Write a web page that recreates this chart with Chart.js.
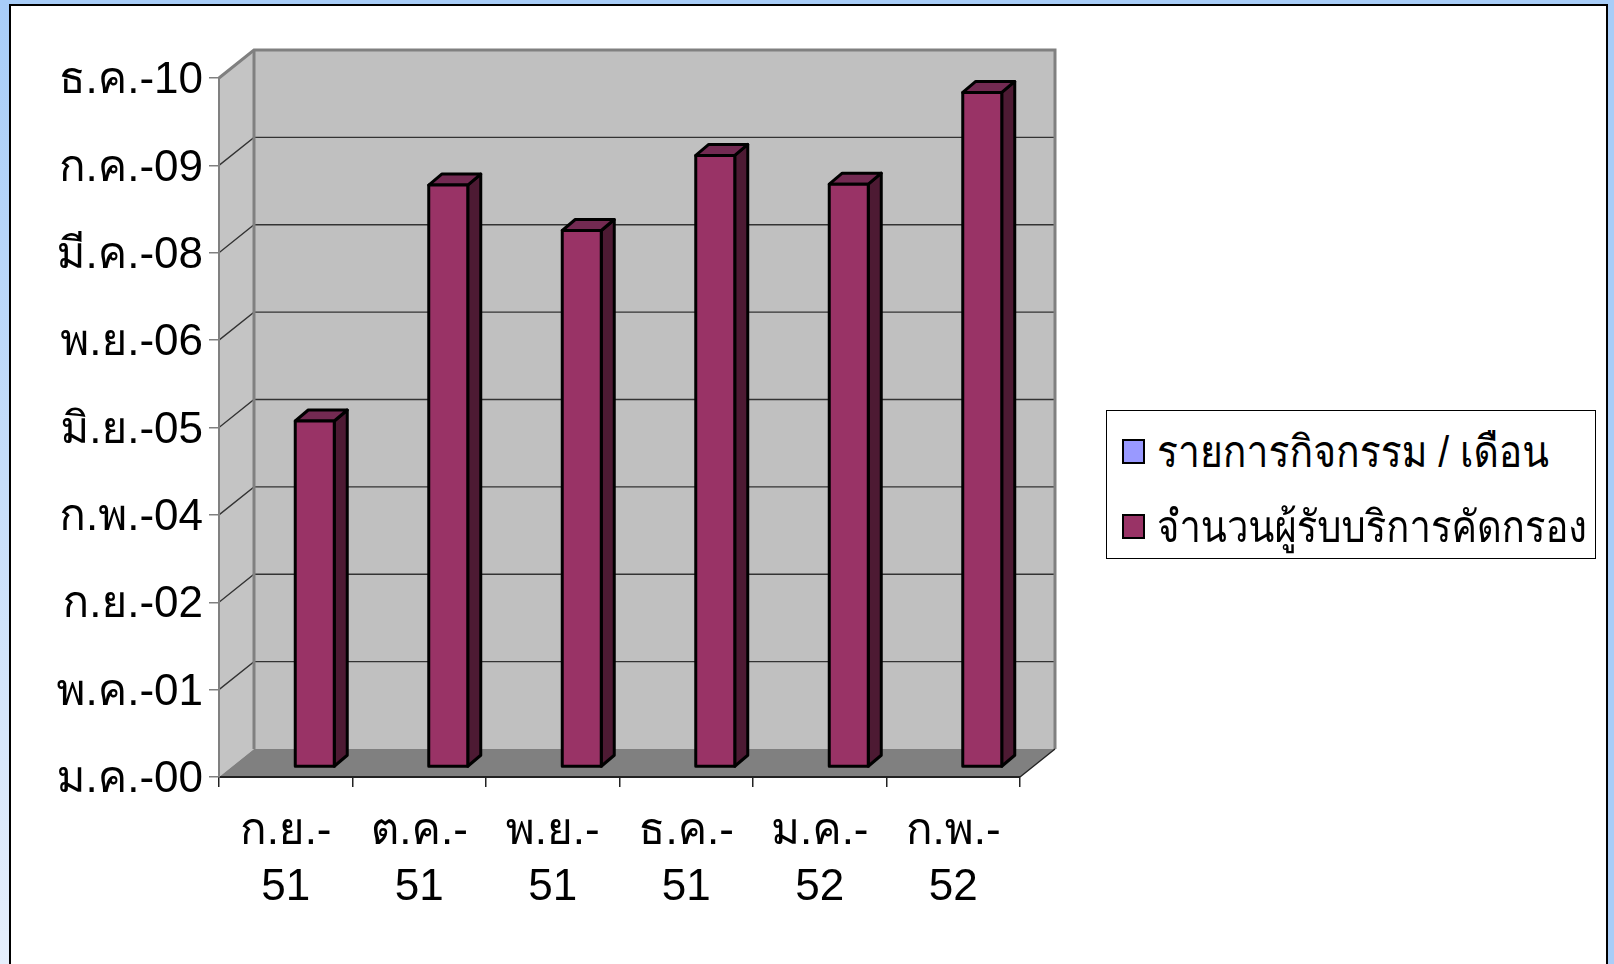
<!DOCTYPE html>
<html>
<head>
<meta charset="utf-8">
<script src="https://cdn.jsdelivr.net/npm/chart.js@4.4.1/dist/chart.umd.min.js"></script>
<style>
  html, body { margin: 0; padding: 0; background: #a8cdf8; overflow: hidden; }
  #wrap { position: relative; width: 1614px; height: 964px; }
  #chart { position: absolute; left: 0; top: 0; }
  #legend {
    position: absolute; left: 1106px; top: 410px; width: 488px; height: 147px;
    border: 1px solid #000; background: #fff;
    font-family: "Liberation Sans", "Loma", "Waree", sans-serif; font-size: 44px; color: #000;
  }
  .item { position: absolute; left: 15px; height: 50px; display: flex; align-items: center; white-space: nowrap; }
  .swatch { width: 19px; height: 21px; border: 2px solid #000; margin-right: 12px; flex: none; }
  .text { display: inline-block; transform-origin: left center; }
</style>
</head>
<body>
<div id="wrap">
  <canvas id="chart" width="1614" height="964"></canvas>
  <div id="legend"></div>
</div>
<script>
const categories = [['ก.ย.-', '51'], ['ต.ค.-', '51'], ['พ.ย.-', '51'], ['ธ.ค.-', '51'], ['ม.ค.-', '52'], ['ก.พ.-', '52']];
const seriesNames = ['รายการกิจกรรม / เดือน', 'จำนวนผู้รับบริการคัดกรอง'];
const activityValues = [null, null, null, null, null, null];
const screeningValues = [1980, 3330, 3070, 3500, 3335, 3860];
const yTickLabels = ['ม.ค.-00', 'พ.ค.-01', 'ก.ย.-02', 'ก.พ.-04', 'มิ.ย.-05', 'พ.ย.-06', 'มี.ค.-08', 'ก.ค.-09', 'ธ.ค.-10'];
const seriesColors = ['#9999ff', '#993366'];

const FONT = '"Liberation Sans", "Loma", "Waree", sans-serif';
const DX = 35, DY = 28;       // depth of the 3d box
const BX = 13, BY = 11;       // depth of each column

function poly(ctx, pts, fill, stroke, lw) {
  ctx.beginPath();
  ctx.moveTo(pts[0][0], pts[0][1]);
  for (let i = 1; i < pts.length; i++) ctx.lineTo(pts[i][0], pts[i][1]);
  ctx.closePath();
  if (fill) { ctx.fillStyle = fill; ctx.fill(); }
  if (stroke) { ctx.strokeStyle = stroke; ctx.lineWidth = lw; ctx.stroke(); }
}

function line(ctx, pts, color, lw) {
  ctx.beginPath();
  ctx.moveTo(pts[0][0], pts[0][1]);
  for (let i = 1; i < pts.length; i++) ctx.lineTo(pts[i][0], pts[i][1]);
  ctx.strokeStyle = color;
  ctx.lineWidth = lw;
  ctx.stroke();
}

const wallsPlugin = {
  id: 'walls',
  beforeDraw(chart) {
    const ctx = chart.ctx, a = chart.chartArea, y = chart.scales.y;
    ctx.save();
    // page + white panel
    const g = ctx.createLinearGradient(0, 0, 0, chart.height);
    g.addColorStop(0, '#a8cdf8');
    g.addColorStop(1, '#e6effc');
    ctx.fillStyle = g;
    ctx.fillRect(0, 0, chart.width, chart.height);
    ctx.fillStyle = '#a8cdf8';
    ctx.fillRect(0, 0, chart.width, 6);
    ctx.fillRect(1608, 0, 6, chart.height);
    ctx.fillStyle = '#fff';
    ctx.fillRect(10, 5, 1597, 980);
    ctx.strokeStyle = '#000';
    ctx.lineWidth = 2;
    ctx.strokeRect(10, 5, 1597, 980);

    const l = a.left, r = a.right, t = a.top, b = a.bottom;
    // side wall, back wall, floor
    poly(ctx, [[l, t], [l + DX, t - DY], [l + DX, b - DY], [l, b]], '#c4c4c4');
    poly(ctx, [[l + DX, t - DY], [r + DX, t - DY], [r + DX, b - DY], [l + DX, b - DY]], '#c0c0c0');
    poly(ctx, [[l, b], [l + DX, b - DY], [r + DX, b - DY], [r, b]], '#808080');

    // gridlines on side and back walls
    y.ticks.forEach(tk => {
      if (tk.value <= 0 || tk.value >= 4000) return;
      const py = y.getPixelForValue(tk.value);
      line(ctx, [[l, py], [l + DX, py - DY], [r + DX, py - DY]], '#333', 1.3);
    });

    // wall edges
    line(ctx, [[l, t], [l + DX, t - DY], [r + DX, t - DY], [r + DX, b - DY]], '#808080', 3);
    line(ctx, [[l + DX, t - DY], [l + DX, b - DY]], '#808080', 3);
    line(ctx, [[r, b], [r + DX, b - DY]], '#222', 1.5);
    ctx.restore();
  }
};

const barsPlugin = {
  id: 'bars3d',
  afterDatasetsDraw(chart) {
    const ctx = chart.ctx;
    const meta = chart.getDatasetMeta(1);
    ctx.save();
    ctx.lineJoin = 'round';
    meta.data.forEach(bar => {
      const cx = bar.x + 29;
      const x0 = cx - 19.5, x1 = cx + 19.5;
      const yt = bar.y - 10, yb = bar.base - 10;
      poly(ctx, [[x1, yt], [x1 + BX, yt - BY], [x1 + BX, yb - BY], [x1, yb]], '#4d1a33', '#000', 3);
      poly(ctx, [[x0, yt], [x0 + BX, yt - BY], [x1 + BX, yt - BY], [x1, yt]], '#732a52', '#000', 3);
      poly(ctx, [[x0, yt], [x1, yt], [x1, yb], [x0, yb]], seriesColors[1], '#000', 3);
    });
    ctx.restore();
  }
};

const chart = new Chart(document.getElementById('chart'), {
  type: 'bar',
  data: {
    labels: categories,
    datasets: [
      { label: seriesNames[0], data: activityValues, backgroundColor: seriesColors[0], grouped: false },
      { label: seriesNames[1], data: screeningValues, backgroundColor: 'rgba(0,0,0,0)', borderWidth: 0, grouped: false }
    ]
  },
  options: {
    responsive: false,
    animation: false,
    layout: { padding: { left: 0, top: 78, right: 594, bottom: 0 } },
    plugins: { legend: { display: false }, tooltip: { enabled: false } },
    scales: {
      x: {
        grid: { drawOnChartArea: false, tickLength: 10, color: '#222', lineWidth: 1.5 },
        border: { color: '#222', width: 2 },
        ticks: { color: '#000', font: { family: FONT, size: 44, lineHeight: 1.27 }, padding: 17, maxRotation: 0, autoSkip: false },
        afterFit(s) { s.height = 187; }
      },
      y: {
        min: 0,
        max: 4000,
        grid: { drawOnChartArea: false, tickLength: 10, color: '#808080', lineWidth: 1.5 },
        border: { color: '#808080', width: 2 },
        ticks: {
          stepSize: 500,
          color: '#000',
          font: { family: FONT, size: 44 },
          padding: 6,
          labelOffset: 3,
          callback: (v, i) => yTickLabels[i]
        },
        afterFit(s) { s.width = 219; }
      }
    }
  },
  plugins: [wallsPlugin, barsPlugin]
});

// legend built from the chart's datasets
const legend = document.getElementById('legend');
const legendTextWidth = [392, 430];
chart.data.datasets.forEach((ds, i) => {
  const item = document.createElement('div');
  item.className = 'item';
  item.style.top = (15 + i * 75) + 'px';
  const sw = document.createElement('span');
  sw.className = 'swatch';
  sw.style.background = seriesColors[i];
  const tx = document.createElement('span');
  tx.className = 'text';
  tx.textContent = ds.label;
  item.appendChild(sw);
  item.appendChild(tx);
  legend.appendChild(item);
  const w = tx.getBoundingClientRect().width;
  if (w > legendTextWidth[i]) tx.style.transform = 'scaleX(' + (legendTextWidth[i] / w) + ')';
});
</script>
</body>
</html>
